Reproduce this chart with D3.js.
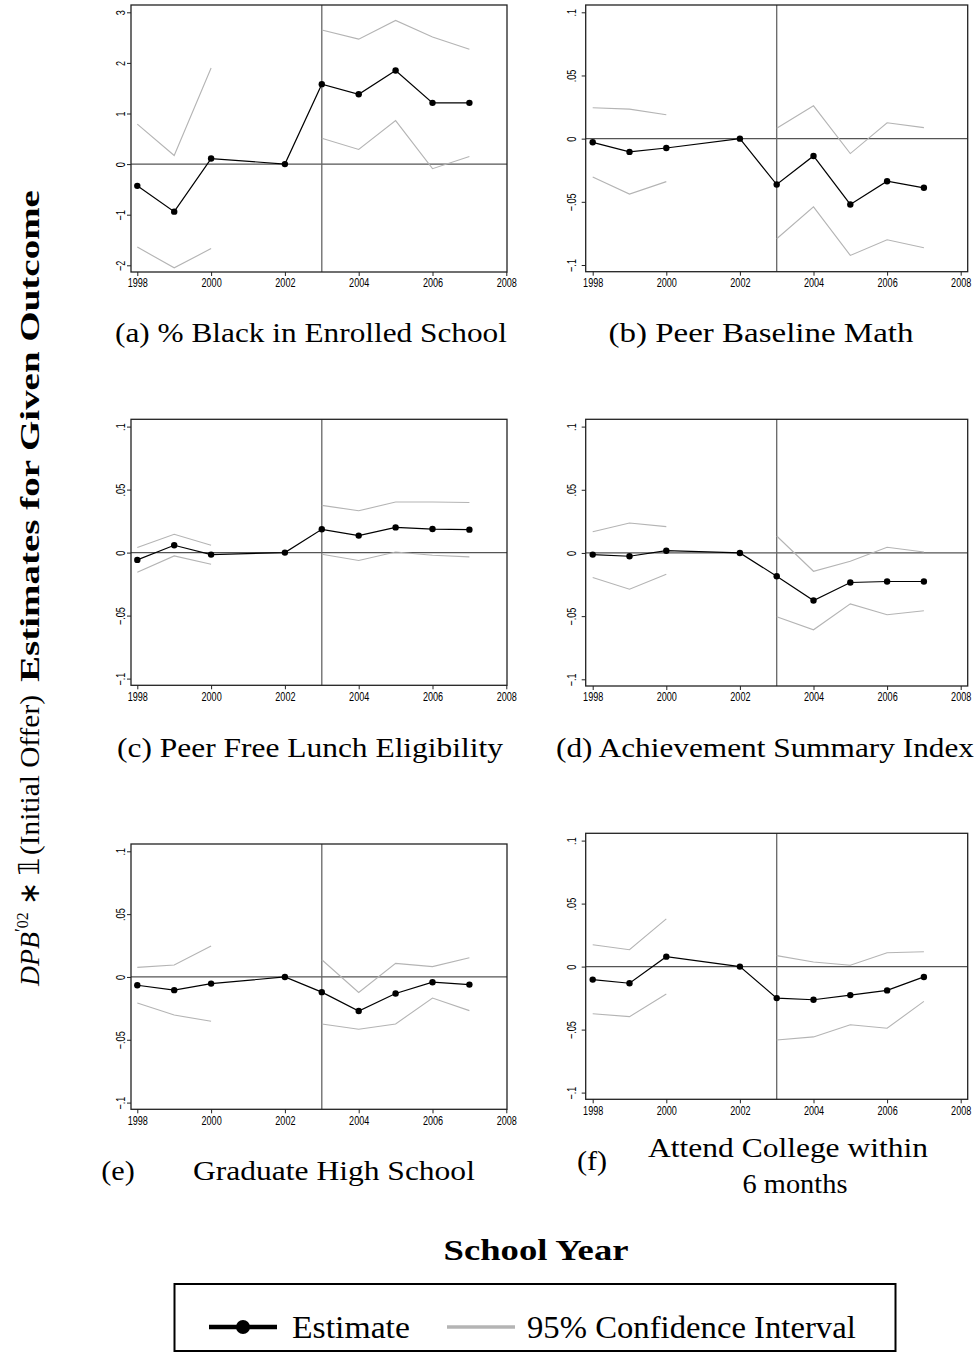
<!DOCTYPE html>
<html lang="en">
<head>
<meta charset="UTF-8">
<title>Event study estimates</title>
<script src="https://d3js.org/d3.v7.min.js"></script>
<style>
  body { margin: 0; background: #fff; }
  svg { display: block; }
  .tick text { font-family: "Liberation Sans", Arial, sans-serif; font-size: 13px; fill: #000; }
  .cap { font-family: "Liberation Serif", serif; fill: #000; }
</style>
</head>
<body>
<div id="chart"></div>
<script>
// school years (2001 not estimated, 2002 is the omitted base year)
const years = [1998, 1999, 2000, 2002, 2003, 2004, 2005, 2006, 2007];
const xTicks = [1998, 2000, 2002, 2004, 2006, 2008];
const smallTicks = [-0.1, -0.05, 0, 0.05, 0.1];
const blackTicks = [-2, -1, 0, 1, 2, 3];

// (a) % Black in enrolled school
const estA = [-0.43, -0.94, 0.11, 0, 1.58, 1.38, 1.85, 1.21, 1.21];
const hiA  = [0.79, 0.17, 1.90, null, 2.65, 2.47, 2.84, 2.51, 2.27];
const loA  = [-1.64, -2.05, -1.67, null, 0.51, 0.29, 0.86, -0.09, 0.15];
// (b) peer baseline math
const estB = [-0.0029, -0.0105, -0.0074, 0, -0.0363, -0.0137, -0.0521, -0.0337, -0.0389];
const hiB  = [0.0245, 0.0234, 0.0189, null, 0.0082, 0.0260, -0.0118, 0.0126, 0.0087];
const loB  = [-0.0303, -0.0439, -0.0340, null, -0.0792, -0.0540, -0.0924, -0.0800, -0.0863];
// (c) peer free lunch eligibility
const estC = [-0.0058, 0.0058, -0.0016, 0, 0.0185, 0.0135, 0.0200, 0.0187, 0.0182];
const hiC  = [0.0040, 0.0145, 0.0058, null, 0.0375, 0.0332, 0.0401, 0.0401, 0.0398];
const loC  = [-0.0156, -0.0026, -0.0092, null, -0.0013, -0.0063, 0.0005, -0.0021, -0.0034];
// (d) achievement summary index
const estD = [-0.0013, -0.0026, 0.0018, 0, -0.0184, -0.0376, -0.0234, -0.0226, -0.0226];
const hiD  = [0.0168, 0.0237, 0.0208, null, 0.0134, -0.0145, -0.0066, 0.0045, 0.0008];
const loD  = [-0.0195, -0.0287, -0.0168, null, -0.0505, -0.0608, -0.0403, -0.0489, -0.0458];
// (e) graduate high school
const estE = [-0.0066, -0.0105, -0.0053, 0, -0.0121, -0.0271, -0.0132, -0.0042, -0.0061];
const hiE  = [0.0076, 0.0095, 0.0247, null, 0.0137, -0.0124, 0.0108, 0.0082, 0.0153];
const loE  = [-0.0208, -0.0303, -0.0353, null, -0.0374, -0.0416, -0.0374, -0.0168, -0.0268];
// (f) attend college within 6 months
const estF = [-0.0103, -0.0132, 0.0079, 0, -0.0250, -0.0263, -0.0226, -0.0189, -0.0082];
const hiF  = [0.0174, 0.0134, 0.0379, null, 0.0087, 0.0037, 0.0011, 0.0110, 0.0118];
const loF  = [-0.0374, -0.0397, -0.0218, null, -0.0582, -0.0558, -0.0461, -0.0489, -0.0276];

const panels = [
  { est: estA, hi: hiA, lo: loA, ticks: blackTicks, col: 0, y0: 5, y1: 272 },
  { est: estB, hi: hiB, lo: loB, ticks: smallTicks, col: 1, y0: 5, y1: 271.7 },
  { est: estC, hi: hiC, lo: loC, ticks: smallTicks, col: 0, y0: 419.3, y1: 685.3 },
  { est: estD, hi: hiD, lo: loD, ticks: smallTicks, col: 1, y0: 419.3, y1: 686 },
  { est: estE, hi: hiE, lo: loE, ticks: smallTicks, col: 0, y0: 844, y1: 1109.3 },
  { est: estF, hi: hiF, lo: loF, ticks: smallTicks, col: 1, y0: 833.3, y1: 1099.3 }
];
const columns = [
  { fx0: 131, fx1: 507, r0: 137.3, r1: 506.3 },
  { fx0: 585.7, fx1: 967.7, r0: 592.7, r1: 960.7 }
];

const W = 977, H = 1353;
const svg = d3.select("#chart").append("svg").attr("width", W).attr("height", H);

const fmtSmall = v => v === 0 ? "0" : (v < 0 ? "\u2212" : "") + String(Math.abs(v)).replace(/^0/, "");
const fmtInt = v => (v < 0 ? "\u2212" : "") + Math.abs(v);

panels.forEach(p => {
  const c = columns[p.col];
  const x = d3.scaleLinear().domain([1998, 2008]).range([c.r0, c.r1]);
  const y = d3.scaleLinear().domain(d3.extent(p.ticks)).range([p.y1 - 6.7, p.y0 + 7.3]);
  const g = svg.append("g");

  // zero line and 2003 policy line
  g.append("line").attr("x1", c.fx0).attr("x2", c.fx1).attr("y1", y(0)).attr("y2", y(0))
    .attr("stroke", "#555").attr("stroke-width", 1.3);
  g.append("line").attr("x1", x(2003)).attr("x2", x(2003)).attr("y1", p.y0).attr("y2", p.y1)
    .attr("stroke", "#666").attr("stroke-width", 1.3);

  const rows = years.map((yr, i) => ({ yr, est: p.est[i], hi: p.hi[i], lo: p.lo[i] }));
  ["hi", "lo"].forEach(k => {
    g.append("path").datum(rows)
      .attr("fill", "none").attr("stroke", "#b4b4b4").attr("stroke-width", 1.1)
      .attr("d", d3.line().defined(d => d[k] !== null).x(d => x(d.yr)).y(d => y(d[k])));
  });
  g.append("path").datum(rows)
    .attr("fill", "none").attr("stroke", "#000").attr("stroke-width", 1.2)
    .attr("d", d3.line().x(d => x(d.yr)).y(d => y(d.est)));
  g.selectAll("circle").data(rows).join("circle")
    .attr("cx", d => x(d.yr)).attr("cy", d => y(d.est)).attr("r", 3.2).attr("fill", "#000");

  // frame
  g.append("rect").attr("x", c.fx0).attr("y", p.y0)
    .attr("width", c.fx1 - c.fx0).attr("height", p.y1 - p.y0)
    .attr("fill", "none").attr("stroke", "#222").attr("stroke-width", 1.3);

  const xa = g.append("g").attr("transform", `translate(0,${p.y1})`)
    .call(d3.axisBottom(x).tickValues(xTicks).tickFormat(d3.format("d")).tickSize(4).tickPadding(2));
  xa.select(".domain").remove();
  xa.selectAll("text").attr("transform", "scale(0.7,1)");

  const ya = g.append("g").attr("transform", `translate(${c.fx0},0)`)
    .call(d3.axisLeft(y).tickValues(p.ticks).tickFormat(p.ticks === blackTicks ? fmtInt : fmtSmall).tickSize(4));
  ya.select(".domain").remove();
  ya.selectAll("text")
    .attr("x", null).attr("dy", null).attr("y", null)
    .attr("text-anchor", "middle")
    .attr("transform", `translate(${p.col === 0 ? -6 : -9.5},0) rotate(-90) scale(0.7,1)`);
  g.selectAll(".tick line").attr("stroke", "#222");
});

// serif text, stretched horizontally (CM Roman is wider than Times)
function serif(txt, x, y, size, opts = {}) {
  const g = svg.append("g");
  const t = g.append("text").attr("class", "cap")
    .attr("font-size", size)
    .attr("text-anchor", opts.anchor || "middle")
    .attr("font-weight", opts.bold ? "bold" : null)
    .text(txt);
  const len = t.node().getComputedTextLength();
  const k = opts.len ? opts.len / len : (opts.k || 1.08);
  g.attr("transform", `translate(${x},${y}) scale(${k},1)`);
  return t;
}

// panel captions
serif("(a) % Black in Enrolled School", 311, 342, 28, { len: 392 });
serif("(b) Peer Baseline Math", 761, 342, 28, { len: 305 });
serif("(c) Peer Free Lunch Eligibility", 310, 757, 28, { len: 386 });
serif("(d) Achievement Summary Index", 765, 757, 28, { len: 418 });
serif("(e)", 118, 1180, 28);
serif("Graduate High School", 334, 1180, 28, { len: 282 });
serif("(f)", 592, 1170, 28);
serif("Attend College within", 788, 1157, 28, { len: 280 });
serif("6 months", 795, 1193, 28, { len: 105 });

// x title
serif("School Year", 536, 1260, 29, { bold: true, len: 185 });

// y title, rotated
const yt = svg.append("g").attr("transform", "translate(39,0)");
function vtext(parts, yStart, len) {
  const outer = yt.append("g");
  const t = outer.append("text").attr("class", "cap").attr("font-size", 28);
  parts.forEach(pt => {
    const s = t.append("tspan").text(pt.t);
    if (pt.italic) s.attr("font-style", "italic");
    if (pt.bold) s.attr("font-weight", "bold");
    if (pt.size) s.attr("font-size", pt.size);
    if (pt.dy) s.attr("dy", pt.dy);
    if (pt.family) s.attr("font-family", pt.family);
  });
  const k = len / t.node().getComputedTextLength();
  outer.attr("transform", `translate(0,${yStart}) rotate(-90) scale(${k},1)`);
}
vtext([
  { t: "DPB", italic: true },
  { t: "\u2032", size: 18, dy: -11 },
  { t: "02", size: 16, dy: 0 },
  { t: " \u2217 ", dy: 11 },
  { t: "\uD835\uDFD9", family: "DejaVu Sans" }
], 986, 128);
vtext([{ t: "(Initial Offer)" }], 855, 160);
vtext([{ t: "Estimates for Given Outcome", bold: true }], 682, 492);

// legend
const lg = svg.append("g");
lg.append("rect").attr("x", 174.5).attr("y", 1284).attr("width", 721).attr("height", 67)
  .attr("fill", "#fff").attr("stroke", "#000").attr("stroke-width", 2);
lg.append("line").attr("x1", 209).attr("x2", 277).attr("y1", 1327).attr("y2", 1327)
  .attr("stroke", "#000").attr("stroke-width", 4.5);
lg.append("circle").attr("cx", 243).attr("cy", 1327).attr("r", 7).attr("fill", "#000");
lg.append("line").attr("x1", 447).attr("x2", 515).attr("y1", 1327).attr("y2", 1327)
  .attr("stroke", "#b4b4b4").attr("stroke-width", 3.5);
serif("Estimate", 292, 1338, 31, { anchor: "start", len: 118 });
serif("95% Confidence Interval", 527, 1338, 31, { anchor: "start", len: 329 });
</script>
</body>
</html>
